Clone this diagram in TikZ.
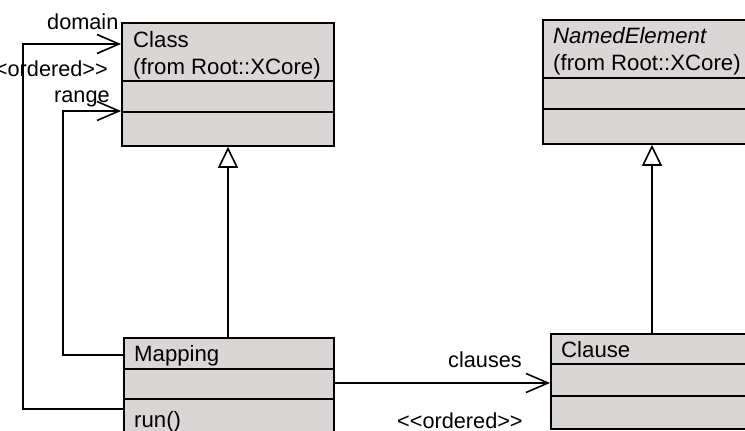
\documentclass[tikz,border=0pt]{standalone}
\usepackage{fontspec}
\setmainfont{Liberation Sans}
\usetikzlibrary{arrows.meta}
\definecolor{boxfill}{RGB}{219,214,214}
\begin{document}
\begin{tikzpicture}[x=1pt,y=-1pt,
  umlbox/.style={draw=black, line width=1.8pt, fill=boxfill, rectangle, inner sep=0pt, anchor=north west},
  divider/.style={draw=black, line width=1.6pt},
  txt/.style={anchor=base west, inner sep=0pt, font=\fontsize{22.2}{26}\selectfont},
  lbl/.style={inner sep=0pt, font=\fontsize{21.7}{26}\selectfont},
  conn/.style={draw=black, line width=1.6pt},
  assoc/.style={conn, -{Straight Barb[length=22pt, width=19pt, line width=1.6pt]}},
  inherit/.style={conn, -{Triangle[open, length=21pt, width=20pt, line width=1.6pt, fill=white]}}
]
\useasboundingbox (0,0) rectangle (745,431);
\clip (0,0) rectangle (745,431);
\fill[white] (0,0) rectangle (745,431);

% Class
\node[umlbox, minimum width=212pt, minimum height=123pt] (class) at (121,22) {};
\draw[divider] (121,81) -- (333,81);
\draw[divider] (121,112) -- (333,112);
\node[txt] (classname) at (133,47) {Class};
\node[txt] (classfrom) at (133,74) {(from Root::XCore)};

% NamedElement
\node[umlbox, minimum width=230pt, minimum height=124pt] (ne) at (542,19) {};
\draw[divider] (542,78) -- (772,78);
\draw[divider] (542,109) -- (772,109);
\node[txt] (nename) at (553,43) {\itshape NamedElement};
\node[txt] (nefrom) at (553,70) {(from Root::XCore)};

% Mapping
\node[umlbox, minimum width=210pt, minimum height=120pt] (mapping) at (123,337) {};
\draw[divider] (123,369) -- (333,369);
\draw[divider] (123,399) -- (333,399);
\node[txt] (mapname) at (134,361) {Mapping};
\node[txt] (maprun) at (134,427) {run()};

% Clause
\node[umlbox, minimum width=220pt, minimum height=95pt] (clause) at (550,333) {};
\draw[divider] (550,364) -- (770,364);
\draw[divider] (550,396) -- (770,396);
\node[txt] (clausename) at (561,357) {Clause};

% generalisations
\draw[inherit] (228,0 |- mapping.north) -- (228,0 |- class.south);
\draw[inherit] (652,0 |- clause.north) -- (652,0 |- ne.south);

% range
\draw[assoc] (mapping.west |- 0,355) -| (63,111) -- (class.west |- 0,111);
% domain
\draw[assoc] (mapping.west |- 0,409) -| (23,44) -- (class.west |- 0,44);
% clauses
\draw[assoc] (mapping.east |- 0,383) -- (clause.west |- 0,383);

% labels
\node[lbl, anchor=base west] (ldomain) at (47,30) {domain};
\node[lbl, anchor=base east] (lordered1) at (108,76) {<{}<ordered>{}>};
\node[lbl, anchor=base west] (lrange) at (54,102) {range};
\node[lbl, anchor=base west] (lclauses) at (448,367) {clauses};
\node[lbl, anchor=base west] (lordered2) at (397,428) {<{}<ordered>{}>};
\end{tikzpicture}
\end{document}
